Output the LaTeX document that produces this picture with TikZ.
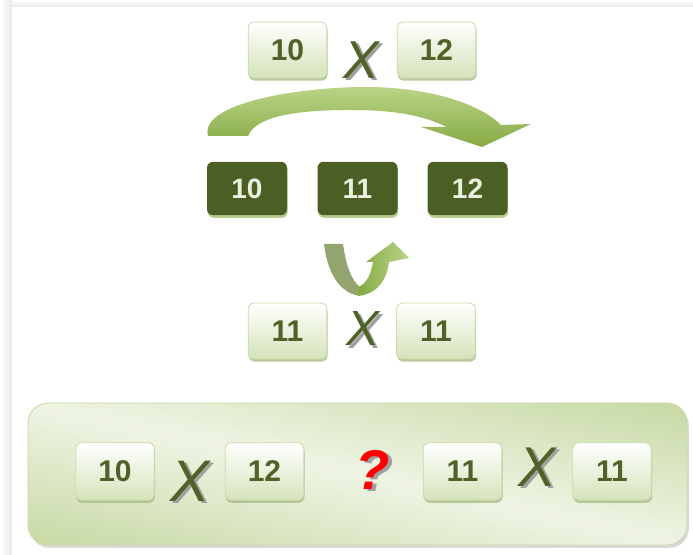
\documentclass[tikz,border=0pt]{standalone}
\usepackage{fontspec}
\setmainfont{Liberation Sans}
\usetikzlibrary{shadows}
\definecolor{numgreen}{HTML}{4F6228}
\definecolor{darkfill}{HTML}{4B5F24}
\definecolor{darktext}{HTML}{EBF1DE}
\definecolor{litefill}{HTML}{D5E3BA}
\definecolor{liteedge}{HTML}{C8DAA6}
\definecolor{liteshade}{HTML}{A9BC88}
\definecolor{darkshade}{HTML}{B7CC8E}
\definecolor{arrowlite}{HTML}{BAD487}
\definecolor{arrowdark}{HTML}{86AA45}
\definecolor{uback}{HTML}{93A46E}
\definecolor{panellite}{HTML}{EFF4E4}
\definecolor{paneldark}{HTML}{C3D69D}
\definecolor{xshade}{HTML}{A0A0A0}
\definecolor{qred}{HTML}{FF0000}
% glyph with a grey copy behind it
\newcommand{\shadowglyph}[1]{\makebox[0pt][l]{\kern2.4pt\raisebox{-1.6pt}{\textcolor{xshade}{#1}}}#1}

\begin{document}
\begin{tikzpicture}[x=0.75pt,y=-0.75pt,
  litebox/.style={rounded corners=4.5pt, draw=liteedge, line width=0.6pt,
    top color=white, bottom color=litefill, inner sep=0pt,
    minimum width=59pt, minimum height=42pt, text=numgreen,
    font=\fontsize{22.5}{26}\selectfont\bfseries,
    drop shadow={shadow xshift=0.5pt, shadow yshift=-2pt, fill=liteshade, opacity=0.8}},
  darkbox/.style={rounded corners=4.5pt, fill=darkfill, inner sep=0pt,
    minimum width=60pt, minimum height=40pt, text=darktext,
    font=\fontsize{21}{24}\selectfont\bfseries,
    drop shadow={shadow xshift=0.5pt, shadow yshift=-2pt, fill=darkshade, opacity=1}},
  timesign/.style={font=\fontsize{#1}{#1}\selectfont\itshape, text=numgreen, inner sep=0pt}]
  \useasboundingbox (0,0) rectangle (693,555);
  % page and its shadow edges
  \fill[white] (0,0) rectangle (693,555);
  \shade[top color=white, bottom color=black!9] (0,0) rectangle (693,7);
  \shade[left color=white, right color=black!9] (0,0) rectangle (12,555);
  \fill[white] (12,7) rectangle (693,555);
  % top pair
  \foreach \nm/\val/\x/\y in {tl/10/287.5/50, tr/12/436.5/50, ml/11/287.5/331, mr/11/436/331} {
    \node[litebox] (\nm) at (\x,\y) {\val};
  }
  % big arrow over the row
  \shade[top color=arrowlite, bottom color=arrowdark]
    (208,136) .. controls (199,103) and (300,87) .. (365,87)
    .. controls (430,87) and (480,104) .. (501,125) -- (531,124) -- (482,147)
    -- (421,127) -- (447,127) .. controls (420,114) and (390,110) .. (350,110)
    .. controls (290,110) and (255,118) .. (248,136) -- cycle;
  % dark row
  \foreach \nm/\val/\x in {da/10/247, db/11/357.5, dc/12/467.5} {
    \node[darkbox] (\nm) at (\x,188.5) {\val};
  }
  % u-turn arrow
  \fill[uback] (324,244) -- (343,244) .. controls (346,265) and (351,280) .. (360,287)
    -- (360,296) .. controls (338,293) and (327,270) .. (324,244) -- cycle;
  \shade[left color=arrowdark, right color=arrowlite]
    (358,296) .. controls (378,294) and (387,279) .. (389,262) -- (409,258)
    -- (393,242) -- (366,262) -- (373,262) .. controls (371,275) and (366,284) .. (358,287) -- cycle;
  % panel
  \fill[black!15, rounded corners=15pt] (30,406) rectangle (689,548);
  \begin{scope}
    \clip[rounded corners=15pt] (28,403) rectangle (687,545);
    \shade[top color=paneldark, bottom color=paneldark, middle color=panellite,
      transform canvas={rotate around={-12:(357,474)}}] (-30,322) rectangle (744,626);
  \end{scope}
  \draw[liteedge, line width=0.6pt, rounded corners=15pt] (28,403) rectangle (687,545);
  \foreach \nm/\val/\x in {pa/10/115, pb/12/264.5, pc/11/462.5, pd/11/612} {
    \node[litebox, minimum height=43pt] (\nm) at (\x,471.5) {\val};
  }
  % times signs
  \foreach \nm/\x/\y/\s in {xa/361/61/40, xb/363/330/37, xc/190/482/44, xd/537/468/42} {
    \node[timesign=\s] (\nm) at (\x,\y) {\shadowglyph{X}};
  }
  \node[font=\fontsize{42}{42}\selectfont\bfseries\itshape, text=qred, inner sep=0pt] (q) at (373,471) {\shadowglyph{?}};
\end{tikzpicture}
\end{document}
